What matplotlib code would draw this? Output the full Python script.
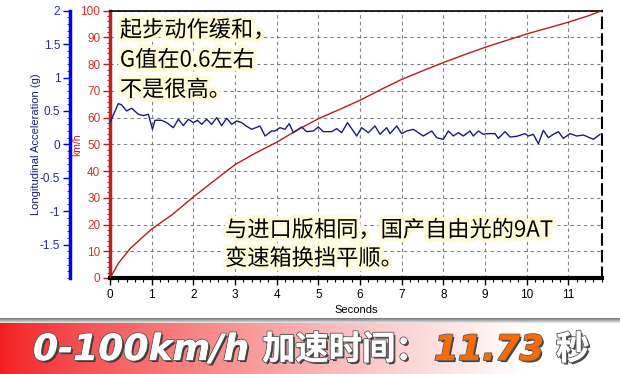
import numpy as np
import matplotlib.pyplot as plt
import matplotlib.patheffects as pe
from matplotlib.ticker import MultipleLocator, FixedLocator, FormatStrFormatter

CJK = ['Noto Sans CJK SC', 'DejaVu Sans']
plt.rcParams['font.family'] = ['Liberation Sans', 'DejaVu Sans']

# speed trace (km/h)
speed_t = [0, 0.2, 0.5, 1.0, 1.5, 2.0, 2.5, 3.0, 3.5, 4.0, 4.5, 5.0, 5.5, 6.0,
           6.5, 7.0, 7.5, 8.0, 8.5, 9.0, 9.5, 10.0, 10.5, 11.0, 11.5, 11.8]
speed_kmh = [0, 5.5, 11.3, 18.3, 23.8, 30.3, 36.4, 42.4, 46.8, 50.8, 55.4, 59.6,
             63.0, 66.5, 70.5, 74.3, 77.5, 80.6, 83.5, 86.3, 88.8, 91.3, 93.5,
             95.7, 98.2, 100]

# longitudinal acceleration (g)
accel_t = [0.0, 0.2, 0.28, 0.4, 0.52, 0.68, 0.8, 0.92, 1.02, 1.08, 1.24, 1.36,
           1.52, 1.64, 1.76, 1.88, 2.0, 2.1, 2.2, 2.32, 2.44, 2.56, 2.68, 2.8,
           2.92, 3.04, 3.16, 3.28, 3.4, 3.6, 3.72, 3.88, 3.96, 4.08, 4.2, 4.3,
           4.4, 4.6, 4.72, 4.88, 5.0, 5.12, 5.32, 5.44, 5.56, 5.7, 5.92, 6.04,
           6.2, 6.36, 6.48, 6.64, 6.72, 6.88, 7.0, 7.12, 7.28, 7.52, 7.72, 7.84,
           8.0, 8.12, 8.24, 8.36, 8.48, 8.64, 8.72, 8.84, 8.96, 9.04, 9.24, 9.32,
           9.48, 9.6, 9.76, 9.96, 10.04, 10.16, 10.28, 10.4, 10.52, 10.64, 10.76,
           10.88, 11.04, 11.2, 11.36, 11.6, 11.76]
accel_g = [0.325, 0.61, 0.59, 0.50, 0.54, 0.45, 0.43, 0.45, 0.225, 0.36, 0.36,
           0.325, 0.25, 0.375, 0.28, 0.375, 0.325, 0.36, 0.30, 0.375, 0.30, 0.40,
           0.28, 0.39, 0.30, 0.35, 0.325, 0.27, 0.225, 0.275, 0.125, 0.20, 0.20,
           0.25, 0.225, 0.31, 0.175, 0.26, 0.19, 0.20, 0.26, 0.19, 0.19, 0.235,
           0.175, 0.325, 0.125, 0.25, 0.175, 0.275, 0.15, 0.25, 0.16, 0.275,
           0.16, 0.20, 0.225, 0.125, 0.20, 0.10, 0.075, 0.20, 0.125, 0.175,
           0.125, 0.20, 0.125, 0.20, 0.15, 0.16, 0.16, 0.09, 0.19, 0.11, 0.12,
           0.16, 0.125, 0.15, 0.01, 0.21, 0.10, 0.15, 0.19, 0.09, 0.16, 0.125,
           0.14, 0.075, 0.15]

accel_time = 11.73

fig = plt.figure(figsize=(6.2, 3.74), dpi=100)
ax = fig.add_axes([110 / 620, 1 - 278 / 374, 491.7 / 620, 267.3 / 374])

red = '#b81c1c'
navy = '#1c1c78'

ax.plot(speed_t, speed_kmh, color=red, lw=1.0, zorder=3)
ax.set_xlim(0, 11.8)
ax.set_ylim(0, 100)
ax.xaxis.set_major_locator(MultipleLocator(1))
ax.xaxis.set_minor_locator(MultipleLocator(0.2))
ax.yaxis.set_major_locator(MultipleLocator(10))
ax.yaxis.set_minor_locator(MultipleLocator(2))
ax.grid(True, which='major', color='#808080', ls=(0, (3, 3)), lw=0.8)
ax.tick_params(axis='x', which='major', length=5, width=1, labelsize=8.5, pad=3)
ax.tick_params(axis='x', which='minor', length=3, width=0.8)
ax.tick_params(axis='y', which='major', length=5, width=1, colors=red,
               labelsize=8.5, labelcolor='#d03030', pad=2)
ax.tick_params(axis='y', which='minor', length=2.5, width=0.8, colors=red)
ax.set_xlabel('Seconds', fontsize=8, labelpad=3)
ax.spines['left'].set_color('#c02020')
ax.spines['left'].set_linewidth(2.5)
ax.spines['bottom'].set_linewidth(3)
ax.spines['top'].set_linewidth(1.2)
ax.spines['right'].set_linestyle((0, (5, 3)))
ax.spines['right'].set_linewidth(1.5)
ax.text(-0.067, 0.5, 'km/h', transform=ax.transAxes, rotation=90,
        color='#c02020', fontsize=7.5, ha='center', va='center')

ax2 = ax.twinx()
ax2.plot(accel_t, accel_g, color=navy, lw=1.0, zorder=3)
ax2.set_ylim(-2, 2)
ax2.yaxis.set_major_locator(FixedLocator([-1.5, -1, -0.5, 0, 0.5, 1, 1.5, 2]))
ax2.yaxis.set_major_formatter(FormatStrFormatter('%g'))
ax2.yaxis.set_minor_locator(MultipleLocator(0.1))
ax2.yaxis.set_ticks_position('left')
ax2.yaxis.set_label_position('left')
ax2.spines['left'].set_position(('axes', -40 / 491.7))
ax2.spines['left'].set_color('#0000ee')
ax2.spines['left'].set_linewidth(2.5)
for s in ['right', 'top', 'bottom']:
    ax2.spines[s].set_visible(False)
ax2.tick_params(axis='y', which='major', length=5, width=1, colors='#0000ee',
                labelsize=8.5, labelcolor='#2828a0', pad=2)
ax2.tick_params(axis='y', which='minor', length=2, width=0.6, colors='#0000ee')
ax2.set_ylabel('Longitudinal Acceleration (g)', fontsize=8, color=navy)
ax2.yaxis.set_label_coords(-0.14, 0.5)

glow = [pe.withStroke(linewidth=6, foreground='#fffbd8')]
ax.text(0.02, 0.97, '起步动作缓和，\nG值在0.6左右\n不是很高。', transform=ax.transAxes,
        family=CJK, fontsize=16, va='top', ha='left', linespacing=1.38,
        path_effects=glow, zorder=5)
ax.text(0.234, 0.222, '与进口版相同，国产自由光的9AT\n变速箱换挡平顺。', transform=ax.transAxes,
        family=CJK, fontsize=16, va='top', ha='left', linespacing=1.3,
        path_effects=glow, zorder=5)

# bottom banner with red-to-white gradient
bax = fig.add_axes([0, 0, 1, 51 / 374])
u = np.linspace(0, 1, 400)
w = np.clip(u / 0.85, 0, 1) ** 0.8
grad = np.dstack([0.95 + 0.05 * w, 0.12 + 0.88 * w, 0.12 + 0.88 * w])
bax.imshow(grad, aspect='auto', extent=[0, 1, 0, 1])
bax.set_axis_off()

sax = fig.add_axes([0, 51 / 374, 1, 5 / 374])
shade = np.linspace(0.45, 0.92, 20)[:, None] * np.ones((1, 10))
sax.imshow(np.dstack([shade, shade, shade]), aspect='auto', extent=[0, 1, 0, 1])
sax.set_axis_off()

shadow = [pe.withSimplePatchShadow(offset=(1.5, -1.5), shadow_rgbFace='#303030',
                                   alpha=0.9),
          pe.withStroke(linewidth=1.5, foreground='#606060'), pe.Normal()]
fig.text(33 / 620, 24 / 374, '0-100km/h', color='white', fontsize=26,
         weight='bold', style='oblique', family='DejaVu Sans', va='center',
         path_effects=shadow)
fig.text(262 / 620, 24 / 374, '加速时间：', color='white', fontsize=24,
         weight='heavy', family=CJK, va='center', path_effects=shadow)
fig.text(434 / 620, 24 / 374, f'{accel_time:.2f}', color='#ff6a00', fontsize=25,
         weight='bold', style='oblique', family='DejaVu Sans', va='center',
         path_effects=shadow)
fig.text(556 / 620, 24 / 374, '秒', color='white', fontsize=24,
         weight='heavy', family=CJK, va='center', path_effects=shadow)

fig.savefig('out.png', dpi=100)
